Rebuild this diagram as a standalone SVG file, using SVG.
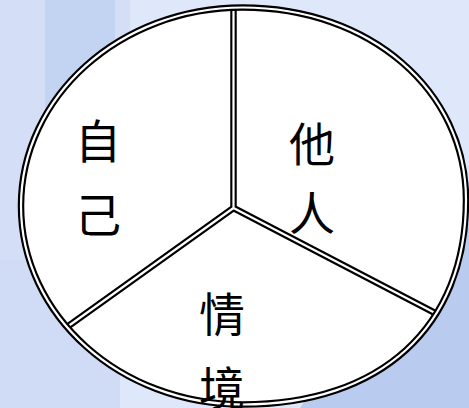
<svg xmlns="http://www.w3.org/2000/svg" width="469" height="408" viewBox="0 0 469 408">
<style>
.dbl-out{fill:none;stroke:#000;stroke-width:6.5}
.dbl-in{fill:none;stroke:#fff;stroke-width:2.2}
.lbl{font-family:"Noto Sans CJK TC","Noto Sans CJK SC",sans-serif;font-size:46px;fill:#000;text-anchor:middle}
</style>
<defs>
<path id="rim" d="M21,206 C21,96.4 120.2,7.5 242.5,7.5 C369.9,7.5 466,90.3 466,200 C466,326.8 381.1,404.5 242.5,404.5 C120.2,404.5 21,315.6 21,206 Z"/>
</defs>
<g id="background">
<rect x="0" y="0" width="469" height="408" fill="#d4dff7"/>
<polygon points="130,0 469,0 469,408 0,408 0,300 130,300" fill="#dfe8fb"/>
<polygon points="45,0 115,0 115,250 45,250" fill="#c3d3f2"/>
<polygon points="420,230 469,180 469,408 300,408" fill="#b9cbef"/>
<polygon points="0,260 120,260 120,408 0,408" fill="#d0dcf6"/>
</g>
<g id="circle">
<use href="#rim" fill="#fff"/>
</g>
<g id="connectors">
<path class="dbl-out" d="M233.5,9 L233.5,208 M233.5,208 L67,327 M233.5,208 L437,314"/>
<path class="dbl-in" d="M233.5,9 L233.5,208 M233.5,208 L67,327 M233.5,208 L437,314"/>
<use href="#rim" class="dbl-out"/>
<use href="#rim" class="dbl-in"/>
</g>
<g id="node-self">
<text class="lbl" x="98" y="158">自</text>
<text class="lbl" x="98" y="232">己</text>
</g>
<g id="node-others">
<text class="lbl" x="312" y="161">他</text>
<text class="lbl" x="312" y="230">人</text>
</g>
<g id="node-situation">
<text class="lbl" x="222" y="331">情</text>
<text class="lbl" x="222" y="405">境</text>
</g>
</svg>
